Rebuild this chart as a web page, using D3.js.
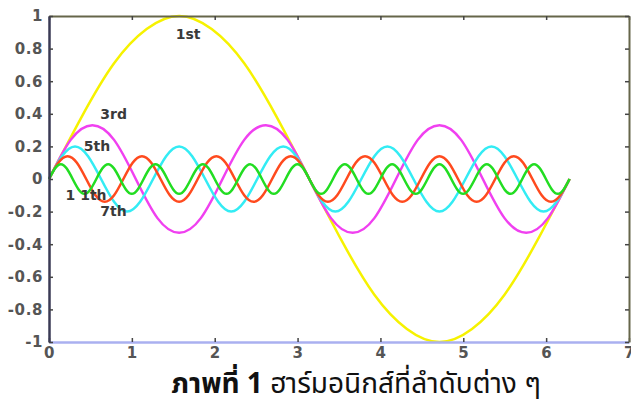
<!DOCTYPE html>
<html>
<head>
<meta charset="utf-8">
<script src="https://cdn.jsdelivr.net/npm/d3@7"></script>
<style>
body { margin: 0; background: #fff; }
svg { display: block; }
</style>
</head>
<body>
<svg width="631" height="405"></svg>
<script>
// harmonics sampled evenly over 0 .. 2pi (8 samples a period)
var xMax = 6.283

var first = [0, .38, .71, .92, 1, .92, .71, .38, 0, -.38, -.71, -.92, -1, -.92, -.71, -.38, 0]

var third = [0, .24, .33, .24, 0, -.24, -.33, -.24,
	0, .24, .33, .24, 0, -.24, -.33, -.24,
	0, .24, .33, .24, 0, -.24, -.33, -.24, 0]

var fifth = [0, .14, .2, .14, 0, -.14, -.2, -.14,
	0, .14, .2, .14, 0, -.14, -.2, -.14,
	0, .14, .2, .14, 0, -.14, -.2, -.14,
	0, .14, .2, .14, 0, -.14, -.2, -.14,
	0, .14, .2, .14, 0, -.14, -.2, -.14, 0]

var seventh = [0, .1, .14, .1, 0, -.1, -.14, -.1,
	0, .1, .14, .1, 0, -.1, -.14, -.1,
	0, .1, .14, .1, 0, -.1, -.14, -.1,
	0, .1, .14, .1, 0, -.1, -.14, -.1,
	0, .1, .14, .1, 0, -.1, -.14, -.1,
	0, .1, .14, .1, 0, -.1, -.14, -.1,
	0, .1, .14, .1, 0, -.1, -.14, -.1, 0]

var eleventh = [0, .064, .091, .064, 0, -.064, -.091, -.064,
	0, .064, .091, .064, 0, -.064, -.091, -.064,
	0, .064, .091, .064, 0, -.064, -.091, -.064,
	0, .064, .091, .064, 0, -.064, -.091, -.064,
	0, .064, .091, .064, 0, -.064, -.091, -.064,
	0, .064, .091, .064, 0, -.064, -.091, -.064,
	0, .064, .091, .064, 0, -.064, -.091, -.064,
	0, .064, .091, .064, 0, -.064, -.091, -.064,
	0, .064, .091, .064, 0, -.064, -.091, -.064,
	0, .064, .091, .064, 0, -.064, -.091, -.064,
	0, .064, .091, .064, 0, -.064, -.091, -.064, 0]

var xTicks = [0, 1, 2, 3, 4, 5, 6, 7]
var yTicks = [-1, -0.8, -0.6, -0.4, -0.2, 0, 0.2, 0.4, 0.6, 0.8, 1]

// label text and where it sits, in data units
var labels = [
	["1st", 1.53, 0.86],
	["3rd", 0.62, 0.37],
	["5th", 0.42, 0.17],
	["1 1th", 0.2, -0.13],
	["7th", 0.62, -0.23]
]

var series = [
	{v: first, color: "#f6f200"},
	{v: third, color: "#f040f0"},
	{v: fifth, color: "#33ecf4"},
	{v: seventh, color: "#ff4a1e"},
	{v: eleventh, color: "#22dd22"}
]

var svg = d3.select("svg")
var pLeft = 49, pRight = 629, pTop = 16, pBottom = 342

var x = d3.scaleLinear().domain([0, 7]).range([pLeft, pRight])
var y = d3.scaleLinear().domain([-1, 1]).range([pBottom, pTop])

/* curves
------------------------------------------------------------------*/
series.forEach(function(s) {
	var idx = d3.scaleLinear().domain([0, s.v.length - 1]).range([0, xMax])
	var line = d3.line()
		.x(function(d, i) { return x(idx(i)) })
		.y(function(d) { return y(d) })
		.curve(d3.curveNatural)
	svg.append("path")
		.datum(s.v)
		.attr("fill", "none")
		.attr("stroke", s.color)
		.attr("stroke-width", 2.5)
		.attr("d", line)
})

/* axes, matlab style box
------------------------------------------------------------------*/
var tickFont = "'DejaVu Sans', Arial, sans-serif"

var gx = svg.append("g")
	.attr("transform", "translate(0," + pBottom + ")")
	.call(d3.axisBottom(x).tickValues(xTicks).tickSizeInner(-4).tickSizeOuter(0).tickPadding(5)
		.tickFormat(d3.format("d")))
gx.select(".domain").attr("stroke", "#aab0f0").attr("stroke-width", 2.5)

var gt = svg.append("g")
	.attr("transform", "translate(0," + pTop + ")")
	.call(d3.axisTop(x).tickValues(xTicks).tickSizeInner(-4).tickSizeOuter(0).tickFormat(""))
gt.select(".domain").attr("stroke", "#66664a").attr("stroke-width", 2)

var gy = svg.append("g")
	.attr("transform", "translate(" + pLeft + ",0)")
	.call(d3.axisLeft(y).tickValues(yTicks).tickSizeInner(-4).tickSizeOuter(0).tickPadding(6)
		.tickFormat(function(d) { return String(+d.toFixed(1)) }))
gy.select(".domain").attr("stroke", "#3a3a55").attr("stroke-width", 2.5)

var gr = svg.append("g")
	.attr("transform", "translate(" + pRight + ",0)")
	.call(d3.axisRight(y).tickValues(yTicks).tickSizeInner(-4).tickSizeOuter(0).tickFormat(""))
gr.select(".domain").attr("stroke", "#66664a").attr("stroke-width", 2)

svg.selectAll(".tick line").attr("stroke", "#444").attr("stroke-width", 1.5)
svg.selectAll(".tick text")
	.attr("fill", "#555")
	.style("font-family", tickFont)
	.style("font-size", "15px")
	.style("font-weight", "bold")
	.style("letter-spacing", "0.6px")

/* curve labels
------------------------------------------------------------------*/
svg.selectAll(".lab")
	.data(labels)
	.enter().append("text")
	.attr("class", "lab")
	.attr("x", function(d) { return x(d[1]) })
	.attr("y", function(d) { return y(d[2]) })
	.attr("fill", "#3a3a3a")
	.style("font-family", tickFont)
	.style("font-size", "14px")
	.style("font-weight", "bold")
	.text(function(d) { return d[0] })

/* caption
------------------------------------------------------------------*/
var cap = svg.append("text")
	.attr("x", 356)
	.attr("y", 393)
	.attr("text-anchor", "middle")
	.attr("fill", "#111")
	.style("font-family", "Tahoma, 'Noto Sans Thai', 'Leelawadee UI', 'DejaVu Sans', sans-serif")
	.style("font-size", "28px")
cap.append("tspan").style("font-weight", "bold").text("ภาพที่ 1")
cap.append("tspan").text(" ฮาร์มอนิกส์ที่ลำดับต่าง ๆ")
</script>
</body>
</html>
